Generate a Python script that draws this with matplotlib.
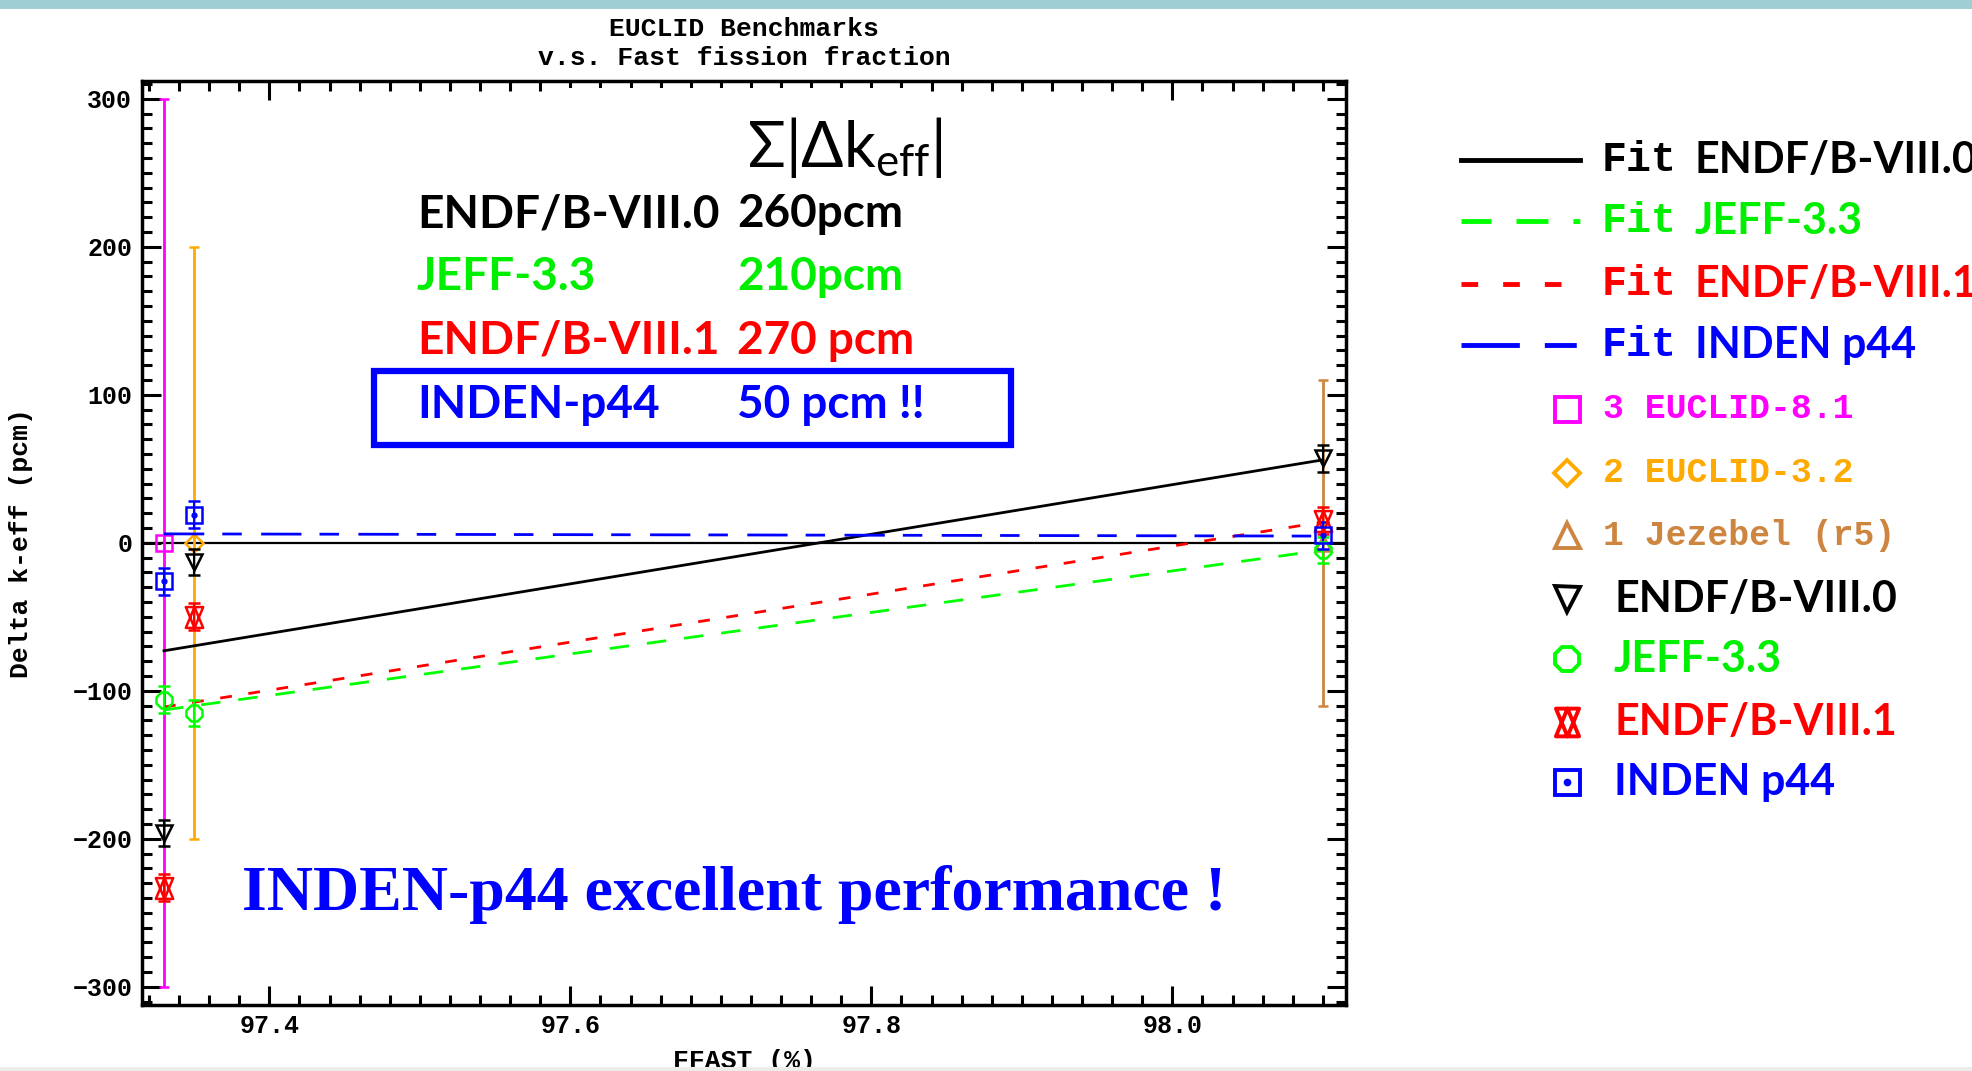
import numpy as np
import matplotlib
matplotlib.use('Agg')
import matplotlib.pyplot as plt
from matplotlib.path import Path
from matplotlib.patches import Rectangle
from matplotlib.lines import Line2D
from matplotlib.ticker import MultipleLocator, FormatStrFormatter

plt.rcParams['lines.scale_dashes'] = False
plt.rcParams['mathtext.fontset'] = 'custom'
plt.rcParams['mathtext.rm'] = 'Lato'
plt.rcParams['mathtext.it'] = 'Lato'
plt.rcParams['mathtext.bf'] = 'Lato:bold'

# benchmarks (experiment = 0, with experimental uncertainty)
bench_names = ['3 EUCLID-8.1', '2 EUCLID-3.2', '1 Jezebel (r5)']
bench_colors = ['#ff00ff', '#ffaa00', '#cd853f']
bench_markers = ['s', 'D', '^']
bench_x = [97.33, 97.35, 98.10]
bench_val = [0, 0, 0]
bench_err = [300, 200, 110]

# calculated Delta k-eff (pcm) per library
lib_names = ['ENDF/B-VIII.0', 'JEFF-3.3', 'ENDF/B-VIII.1', 'INDEN p44']
lib_colors = ['#000000', '#00ee00', '#ff0000', '#0000ff']
endf80 = [-196, -13, 57]
jeff33 = [-106, -115, -5]
endf81 = [-233, -50, 15]
inden = [-26, 19, 5]
calc_err = [9, 9, 9]

# weighted linear fits (end points)
fit_x = [97.33, 98.10]
fit_endf80 = [-73, 56]
fit_jeff33 = [-113, -5]
fit_endf81 = [-111, 14]
fit_inden = [6, 4.5]

# sum |dk| table
sum_names = ['ENDF/B-VIII.0', 'JEFF-3.3', 'ENDF/B-VIII.1', 'INDEN-p44']
sum_vals = ['260pcm', '210pcm', '270 pcm', '50 pcm !!']

W, H = 1972, 1071
def fx(x):
    return x / W
def fy(y):
    return 1 - y / H

mono = 'Liberation Mono'
sans = 'Lato'

hour = Path([(-0.5, 0.6), (0.5, 0.6), (0, -0.6), (-0.5, 0.6),
             (-0.5, -0.6), (0.5, -0.6), (0, 0.6), (-0.5, -0.6)],
            [Path.MOVETO, Path.LINETO, Path.LINETO, Path.CLOSEPOLY] * 2)
lib_markers = ['v', '8', hour, 's']
lib_ms = [12, 12, 15, 12]

fit_styles = ['-', (0, (14, 13)), (0, (8.5, 12)), (0, (29, 13, 14, 14))]
leg_styles = ['-', (0, (21.6, 18, 23, 18, 5, 30)), (0, (12, 18)), (0, (42, 18, 23, 30))]

fig = plt.figure(figsize=(19.72, 10.71), dpi=100)
ax = fig.add_axes([fx(142), fy(1004.5), fx(1346 - 142), (1004.5 - 81) / H])

ax.axhline(0, color='k', lw=1.6, zorder=2)

# experimental error bars
for i in range(len(bench_x)):
    ax.errorbar(bench_x[i], bench_val[i], yerr=bench_err[i], color=bench_colors[i],
                marker=bench_markers[i], ms=12 if bench_markers[i] != 'D' else 9,
                mfc='none', mec=bench_colors[i], mew=1.8, lw=2, capsize=3.5,
                capthick=2, zorder=2)

# fits
fits = [fit_endf80, fit_jeff33, fit_endf81, fit_inden]
for f, c, s in zip(fits, lib_colors, fit_styles):
    c2 = '#00ff00' if c == '#00ee00' else c
    ax.plot(fit_x, f, color=c2, ls=s, lw=2.0, zorder=3)

# calculated points
calcs = [endf80, jeff33, endf81, inden]
for vals, c, m, ms in zip(calcs, lib_colors, lib_markers, lib_ms):
    c2 = '#00ff00' if c == '#00ee00' else c
    ax.errorbar(bench_x, vals, yerr=calc_err, color=c2, marker=m, ms=ms, mfc='none',
                mec=c2, mew=1.8, lw=1.5, capsize=4.5, capthick=1.5, ls='none', zorder=4)
ax.plot(bench_x, inden, ls='none', marker='o', ms=3.5, color='#0000ff', zorder=4)

ax.set_xlim(97.3154, 98.1154)
ax.set_ylim(-312, 312)
ax.xaxis.set_major_locator(MultipleLocator(0.2))
ax.xaxis.set_minor_locator(MultipleLocator(0.02))
ax.xaxis.set_major_formatter(FormatStrFormatter('%.1f'))
ax.yaxis.set_major_locator(MultipleLocator(100))
ax.yaxis.set_minor_locator(MultipleLocator(10))
ax.tick_params(which='both', direction='in', top=True, right=True, width=2.2)
ax.tick_params(which='major', length=13.5, pad=7)
ax.tick_params(which='minor', length=7)
for lab in ax.get_xticklabels() + ax.get_yticklabels():
    lab.set_fontfamily(mono)
    lab.set_fontweight('bold')
    lab.set_fontsize(18)
for sp in ax.spines.values():
    sp.set_linewidth(2.5)

# titles and axis labels
fig.text(fx(744), fy(29), 'EUCLID Benchmarks', ha='center', va='center',
         family=mono, weight='bold', size=19)
fig.text(fx(744), fy(58), 'v.s. Fast fission fraction', ha='center', va='center',
         family=mono, weight='bold', size=19)
fig.text(fx(744), fy(1061), 'FFAST (%)', ha='center', va='center',
         family=mono, weight='bold', size=19)
fig.text(fx(21), fy(543), 'Delta k-eff (pcm)', ha='center', va='center', rotation=90,
         family=mono, weight='bold', size=19)

# slide decorations
fig.add_artist(Rectangle((0, fy(9)), 1, 9 / H, transform=fig.transFigure,
                         fc='#9fcfd4', ec='none', zorder=5))
fig.add_artist(Rectangle((0, 0), 1, 4 / H, transform=fig.transFigure,
                         fc='#ececec', ec='none', zorder=5))
fig.add_artist(Rectangle((fx(566), fy(130)), (924 - 566) / W, 42 / H,
                         transform=fig.transFigure, fc='white', ec='none', zorder=5))

# sum |dk| table
fig.text(fx(747), fy(148), r'$\Sigma|\Delta\mathrm{k}_{\mathrm{eff}}|$', ha='left',
         va='center', size=45, zorder=6)
row_y = [214, 277, 341, 405]
for name, val, c, y in zip(sum_names, sum_vals, lib_colors, row_y):
    fig.text(fx(417), fy(y), name, color=c, family=sans, weight='bold', size=33,
             ha='left', va='center', zorder=6)
    fig.text(fx(737), fy(y), val, color=c, family=sans, weight='bold', size=33,
             ha='left', va='center', zorder=6)
fig.add_artist(Rectangle((fx(374), fy(445)), (1011 - 374) / W, (445 - 371) / H,
                         transform=fig.transFigure, fc='none', ec='#0000ff', lw=4.5, zorder=6))
fig.text(fx(734), fy(895), 'INDEN-p44 excellent performance !', color='#0000ff',
         family='Liberation Serif', weight='bold', size=46, ha='center', va='center', zorder=6)

# legend
fit_rows = [160, 221, 284, 345]
for name, c, s, y in zip(lib_names, lib_colors, leg_styles, fit_rows):
    c2 = '#00ff00' if c == '#00ee00' else c
    fig.add_artist(Line2D([fx(1461), fx(1580)], [fy(y), fy(y)], color=c2, ls=s, lw=3.5,
                          transform=fig.transFigure))
    fig.text(fx(1602), fy(y), 'Fit', color=c, family=mono, weight='bold', size=30,
             ha='left', va='center')
    fig.text(fx(1695), fy(y), name, color=c, family=sans, weight='bold', size=31,
             ha='left', va='center')

mark_rows = [409, 473, 535, 599, 659, 722, 782]
for name, c, m, y in zip(bench_names, bench_colors, bench_markers, mark_rows[:3]):
    fig.add_artist(Line2D([fx(1567)], [fy(y)], marker=m, ms=18 if m != 'D' else 13,
                          mfc='none', mec=c, mew=2.8, ls='none', transform=fig.transFigure))
    fig.text(fx(1603), fy(y), name, color=c, family=mono, weight='bold', size=25,
             ha='left', va='center')
for name, c, m, y in zip(lib_names, lib_colors, lib_markers, mark_rows[3:]):
    c2 = '#00ff00' if c == '#00ee00' else c
    fig.add_artist(Line2D([fx(1567)], [fy(y)], marker=m, ms=20 if m is hour else 18,
                          mfc='none', mec=c2, mew=2.8, ls='none', transform=fig.transFigure))
    fig.text(fx(1614), fy(y), name, color=c, family=sans, weight='bold', size=31,
             ha='left', va='center')
fig.add_artist(Line2D([fx(1567)], [fy(mark_rows[-1])], marker='o', ms=4.5, color='#0000ff',
                      ls='none', transform=fig.transFigure))

plt.savefig('out.png', dpi=100)
